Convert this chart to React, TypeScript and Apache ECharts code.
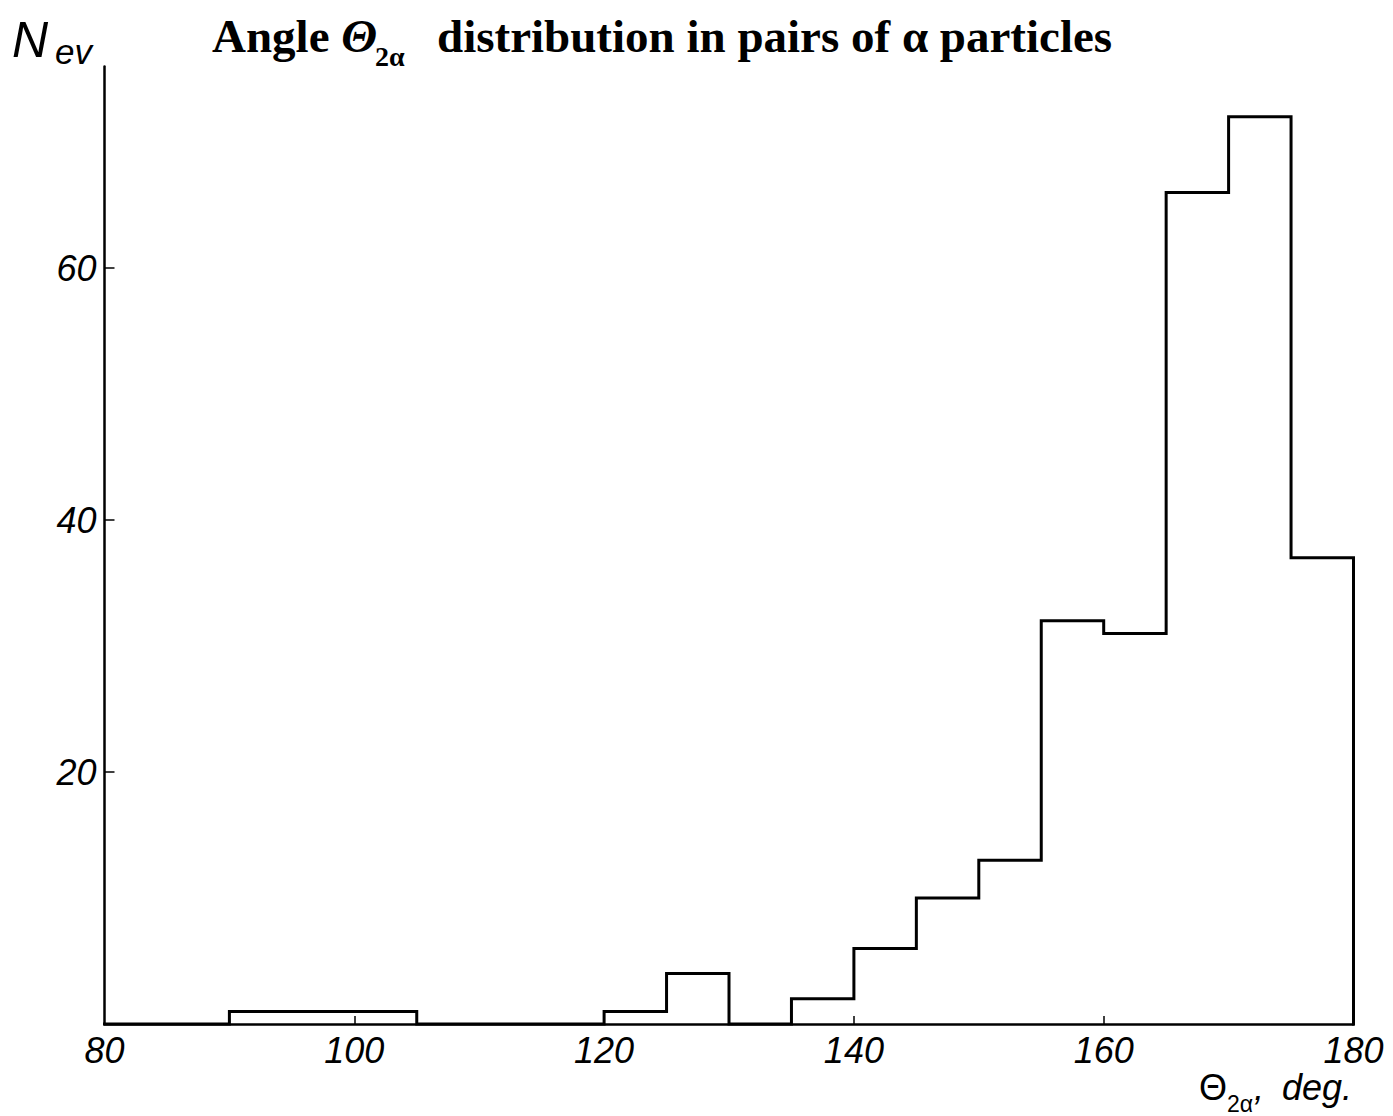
import React, { useEffect, useRef } from "react";
import * as echarts from "echarts";

// Histogram of the angle between two alpha particles (5-degree bins from 80 to 180)
const binStart = 80;
const binWidth = 5;
const counts = [0, 0, 1, 1, 1, 0, 0, 0, 1, 4, 0, 2, 6, 10, 13, 32, 31, 66, 72, 37];
const xTickLabels = [80, 100, 120, 140, 160, 180];
const xTickMarks = [100, 120, 140, 160];
const yTickLabels = [20, 40, 60];

const SANS = '"Liberation Sans", Arial, sans-serif';
const SERIF = '"Liberation Serif", "Times New Roman", serif';

function buildStepPoints(): number[][] {
  const pts: number[][] = [];
  counts.forEach((c, i) => {
    const x0 = binStart + i * binWidth;
    pts.push([x0, c]);
    pts.push([x0 + binWidth, c]);
  });
  pts.push([binStart + counts.length * binWidth, 0]);
  return pts;
}

function txt(x: number, y: number, text: string, font: string) {
  return {
    type: "text",
    x,
    y,
    style: { text, font, fill: "#000", verticalAlign: "middle" },
  };
}

export default function App() {
  const ref = useRef<HTMLDivElement>(null);
  useEffect(() => {
    document.body.style.margin = "0";
    if (!ref.current) return;
    const chart = echarts.init(ref.current, null, { renderer: "svg" });
    chart.setOption({
      animation: false,
      backgroundColor: "#ffffff",
      grid: { left: 104.5, right: 39.5, top: 66.4, bottom: 92, containLabel: false },
      xAxis: {
        type: "value",
        min: 80,
        max: 180,
        interval: 20,
        axisLine: { show: true, onZero: false, lineStyle: { color: "#000", width: 2.5 } },
        axisTick: {
          show: true,
          inside: true,
          length: 8,
          customValues: xTickMarks,
          lineStyle: { color: "#000", width: 1.5 },
        },
        axisLabel: {
          customValues: xTickLabels,
          margin: 8,
          fontFamily: SANS,
          fontStyle: "italic",
          fontSize: 36,
          color: "#000",
        },
        splitLine: { show: false },
      },
      yAxis: {
        type: "value",
        min: 0,
        max: 76,
        interval: 20,
        axisLine: { show: true, onZero: false, lineStyle: { color: "#000", width: 2.5 } },
        axisTick: {
          show: true,
          inside: true,
          length: 10,
          customValues: yTickLabels,
          lineStyle: { color: "#000", width: 1.5 },
        },
        axisLabel: {
          customValues: yTickLabels,
          margin: 8,
          fontFamily: SANS,
          fontStyle: "italic",
          fontSize: 36,
          color: "#000",
        },
        splitLine: { show: false },
      },
      series: [
        {
          type: "line",
          data: buildStepPoints(),
          symbol: "none",
          clip: false,
          z: 5,
          lineStyle: { color: "#000", width: 3, join: "miter", cap: "square" },
        },
      ],
      graphic: [
        // Y-axis name N_ev
        txt(12, 40, "N", `italic 50px ${SANS}`),
        txt(55, 51, "ev", `italic 35px ${SANS}`),
        // Title
        {
          type: "text",
          x: 212,
          y: 36,
          style: {
            text: "{m|Angle }{t|Θ}",
            verticalAlign: "middle",
            fill: "#000",
            rich: {
              m: { fontFamily: SERIF, fontWeight: "bold", fontSize: 47, fill: "#000" },
              t: { fontFamily: SERIF, fontWeight: "bold", fontStyle: "italic", fontSize: 47, fill: "#000" },
            },
          },
        },
        txt(375, 56, "2α", `bold 28px ${SERIF}`),
        txt(437, 36, "distribution in pairs of α particles", `bold 47px ${SERIF}`),
        // X-axis name Θ_2α, deg.
        txt(1199, 1087.5, "Θ", `36px ${SANS}`),
        txt(1227, 1104, "2α", `23px ${SANS}`),
        txt(1254, 1087.5, ",", `italic 36px ${SANS}`),
        txt(1282, 1087.5, "deg.", `italic 36px ${SANS}`),
      ],
    });
    return () => chart.dispose();
  }, []);
  return <div ref={ref} style={{ width: 1393, height: 1116 }} />;
}
